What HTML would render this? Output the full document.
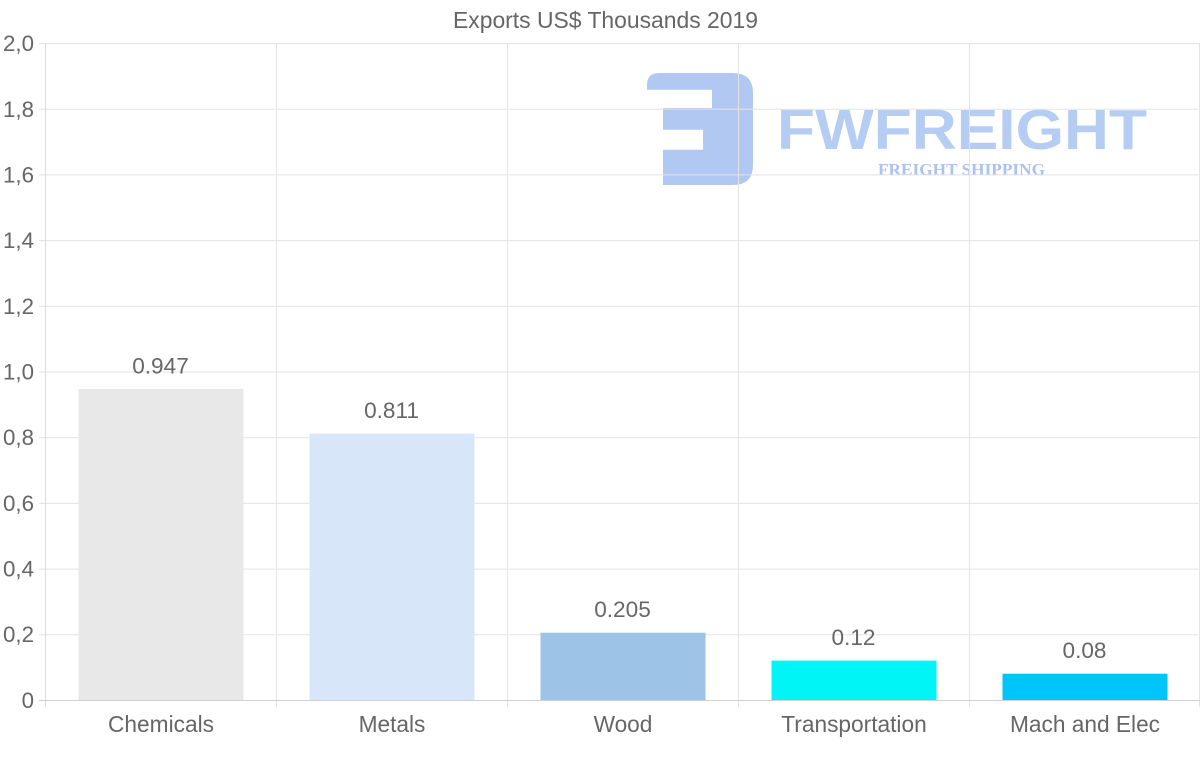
<!DOCTYPE html>
<html>
<head>
<meta charset="utf-8">
<style>
  html, body { margin: 0; padding: 0; background: #ffffff; }
  svg { display: block; }
  text { font-family: "Liberation Sans", sans-serif; }
</style>
</head>
<body>
<svg width="1200" height="763" viewBox="0 0 1200 763" xmlns="http://www.w3.org/2000/svg">
  <rect width="1200" height="763" fill="#ffffff"/>

  <!-- title -->
  <text x="605.5" y="28" font-size="22.9" fill="#666666" text-anchor="middle">Exports US$ Thousands 2019</text>

  <!-- watermark logo (beneath grid) -->
  <path d="M 647,89.7 V 85 Q 647,73 659,73 H 733 Q 753,73 753,93 V 165 Q 753,185 733,185 H 663 V 149.7 H 703 V 129.7 H 663 V 108 H 712 V 89.7 Z" fill="#b1c9f2"/>
  <text x="777" y="149" font-size="57" font-weight="bold" fill="#b6cdf3" textLength="370" lengthAdjust="spacingAndGlyphs">FWFREIGHT</text>
  <text x="878" y="175" font-size="17" font-weight="bold" fill="#abc2ef" textLength="167" lengthAdjust="spacingAndGlyphs" style="font-family:'Liberation Serif', serif;">FREIGHT SHIPPING</text>

  <!-- horizontal grid lines -->
  <g stroke="#e3e3e3" stroke-width="1">
    <line x1="39" y1="43.5" x2="1200" y2="43.5"/>
    <line x1="39" y1="109.2" x2="1200" y2="109.2"/>
    <line x1="39" y1="174.9" x2="1200" y2="174.9"/>
    <line x1="39" y1="240.6" x2="1200" y2="240.6"/>
    <line x1="39" y1="306.3" x2="1200" y2="306.3"/>
    <line x1="39" y1="372" x2="1200" y2="372"/>
    <line x1="39" y1="437.7" x2="1200" y2="437.7"/>
    <line x1="39" y1="503.4" x2="1200" y2="503.4"/>
    <line x1="39" y1="569.1" x2="1200" y2="569.1"/>
    <line x1="39" y1="634.8" x2="1200" y2="634.8"/>
  </g>
  <!-- vertical grid lines -->
  <g stroke="#e3e3e3" stroke-width="1">
    <line x1="276.5" y1="43" x2="276.5" y2="707"/>
    <line x1="507.5" y1="43" x2="507.5" y2="707"/>
    <line x1="738.5" y1="43" x2="738.5" y2="707"/>
    <line x1="969.5" y1="43" x2="969.5" y2="707"/>
    <line x1="1199.5" y1="43" x2="1199.5" y2="707"/>
  </g>

  <!-- bars -->
  <rect x="78.5" y="388.9" width="165" height="311.1" fill="#e8e8e8"/>
  <rect x="309.5" y="433.6" width="165" height="266.4" fill="#d7e7f9"/>
  <rect x="540.5" y="632.7" width="165" height="67.3" fill="#9dc3e6"/>
  <rect x="771.5" y="660.6" width="165" height="39.4" fill="#00f6f6"/>
  <rect x="1002.5" y="673.7" width="165" height="26.3" fill="#00c5fb"/>

  <!-- axes -->
  <line x1="45.5" y1="43" x2="45.5" y2="707" stroke="#dcdcdc" stroke-width="1"/>
  <line x1="39" y1="700.5" x2="1200" y2="700.5" stroke="#d0d0d0" stroke-width="1"/>

  <!-- y tick labels -->
  <g font-size="22.3" fill="#666666" text-anchor="end">
    <text x="34" y="51">2,0</text>
    <text x="34" y="117">1,8</text>
    <text x="34" y="182.5">1,6</text>
    <text x="34" y="248">1,4</text>
    <text x="34" y="314">1,2</text>
    <text x="34" y="379.5">1,0</text>
    <text x="34" y="445">0,8</text>
    <text x="34" y="511">0,6</text>
    <text x="34" y="576.5">0,4</text>
    <text x="34" y="642">0,2</text>
    <text x="34" y="708">0</text>
  </g>

  <!-- x labels -->
  <g font-size="22.7" fill="#666666" text-anchor="middle">
    <text x="161" y="732">Chemicals</text>
    <text x="392" y="732">Metals</text>
    <text x="623" y="732">Wood</text>
    <text x="854" y="732">Transportation</text>
    <text x="1085" y="732">Mach and Elec</text>
  </g>

  <!-- value labels -->
  <g font-size="22.6" fill="#666666" text-anchor="middle">
    <text x="160.5" y="373.3">0.947</text>
    <text x="391.5" y="418.2">0.811</text>
    <text x="622.5" y="617.2">0.205</text>
    <text x="853.5" y="645.1">0.12</text>
    <text x="1084.5" y="658.2">0.08</text>
  </g>
</svg>
</body>
</html>
